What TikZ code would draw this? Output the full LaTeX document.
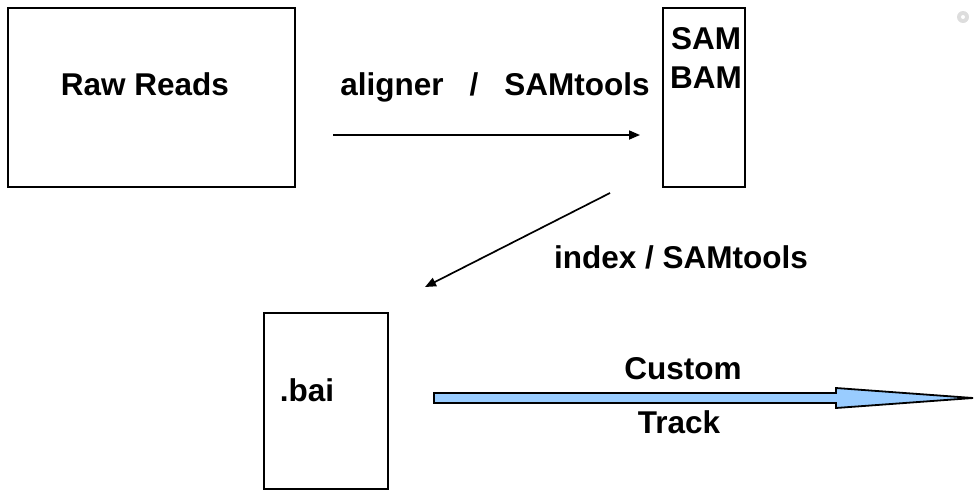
\documentclass[tikz,border=0pt]{standalone}
\usepackage{fontspec}
\setmainfont{Liberation Sans}
\usetikzlibrary{arrows.meta}
\definecolor{trackblue}{RGB}{153,204,255}
\tikzset{
  box/.style={draw=black, line width=1.9pt, inner sep=0pt},
  lbl/.style={inner sep=0pt, font=\fontsize{31.5}{37}\selectfont\bfseries, text height=22.5pt, text depth=0pt},
  conn/.style={draw=black, line width=1.7pt, -{Triangle[length=11pt,width=9pt]}},
}
\begin{document}
\begin{tikzpicture}[x=1pt,y=-1pt]
\useasboundingbox (0,0) rectangle (974,493);
% boxes
\node[box, minimum width=287pt, minimum height=179pt] (raw) at (151.5,97.5) {};
\node[box, minimum width=82pt, minimum height=179pt] (sam) at (704,97.5) {};
\node[box, minimum width=124pt, minimum height=176pt] (bai) at (326,401) {};
% texts
\node[lbl] (rawt) at (145,84) {Raw Reads};
\node[lbl] (alig) at (495,84) {aligner\hspace{26pt}/\hspace{26pt}SAMtools};
\node[lbl] (samt) at (706,38) {SAM};
\node[lbl] (bamt) at (706,77) {BAM};
\node[lbl] (idx) at (681,257) {index / SAMtools};
\node[lbl] (bait) at (307,390) {.bai};
\node[lbl] (cust) at (683,368) {Custom};
\node[lbl] (trk) at (679,422) {Track};
% connectors
\coordinate (a1s) at (333,135);
\coordinate (a1e) at (640,135);
\coordinate (a2s) at (610,193);
\coordinate (a2e) at (425,287);
\draw[conn] (a1s) -- (a1e);
\draw[conn] (a2s) -- (a2e);
% block arrow
\coordinate (t1) at (434,393);
\coordinate (t2) at (836,393);
\coordinate (t3) at (836,388);
\coordinate (t4) at (973,398);
\coordinate (t5) at (836,408);
\coordinate (t6) at (836,403);
\coordinate (t7) at (434,403);
\draw[fill=trackblue, draw=black, line width=1.8pt, line join=miter] (t1) -- (t2) -- (t3) -- (t4) -- (t5) -- (t6) -- (t7) -- cycle;
% smudge top right
\fill[gray!45, opacity=0.6] (963,17) circle (6pt);
\fill[white] (963,17) circle (2pt);
\end{tikzpicture}
\end{document}
